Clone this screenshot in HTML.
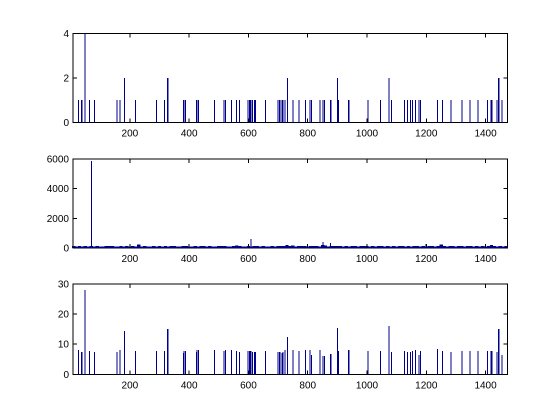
<!DOCTYPE html>
<html><head><meta charset="utf-8"><style>
html,body{margin:0;padding:0;background:#fff;}
svg{display:block;font-family:"Liberation Sans",sans-serif;font-size:10px;}
</style></head><body>
<svg id="chart" width="560" height="420" xmlns="http://www.w3.org/2000/svg" shape-rendering="crispEdges"></svg>
<script>
// shared x categories (positions of events)
const eventX = [26,36,39,49,63,80,157,167,181,219,289,316,326,329,380,383,387,424,427,431,485,518,522,542,559,569,599,603,606,609,613,620,623,657,700,704,707,714,717,724,731,751,771,792,808,812,842,852,856,876,879,900,903,937,940,1004,1045,1075,1082,1126,1136,1146,1153,1163,1176,1180,1237,1254,1284,1321,1348,1375,1406,1419,1422,1439,1443,1446,1456];
const countValues = [1,1,1,4,1,1,1,1,2,1,1,1,2,2,1,1,1,1,1,1,1,1,1,1,1,1,1,1,1,1,1,1,1,1,1,1,1,1,1,1,2,1,1,1,1,1,1,1,1,1,1,2,1,1,1,1,1,2,1,1,1,1,1,1,1,1,1,1,1,1,1,1,1,1,1,1,2,2,1];
const ratioValues = [8.1,7.4,7.4,28,7.7,7.4,7.4,8.1,14.4,7.7,7.7,7.7,15,15,7,7.7,7.7,7.4,8,8,8,7.7,8,8,7.7,7.4,7.7,7.7,7.7,7.7,7.4,7.4,7.4,7.7,7.4,7.4,7.4,7,7.4,8,12.4,8,7.7,8,8,6.4,8,6.1,6.1,6.8,6.8,15.4,7.7,8,8,7.7,7.7,16,7.4,7.7,7.4,7.4,7.7,8,6.4,7.7,8.4,7.7,7.4,7.7,7.7,7.7,7.7,7.7,7.7,7.4,15,15,6.4];
// middle series: baseline sampled every 10 units plus spikes
const denseX0 = 10, denseStep = 10;
const denseValues = [140,110,150,100,120,95,130,100,120,110,100,140,150,120,100,110,130,110,140,105,120,100,250,110,130,115,100,120,105,140,110,125,100,130,150,110,100,120,140,115,100,130,110,120,150,105,120,100,110,130,140,120,100,110,150,180,120,100,115,130,100,140,120,110,130,100,115,120,105,130,120,140,200,130,160,110,140,120,130,110,150,120,140,110,200,160,110,130,140,150,120,110,130,100,120,140,110,130,150,120,110,130,100,150,140,110,120,100,130,110,120,140,100,130,110,120,150,110,140,100,125,130,110,140,250,130,110,120,140,100,130,150,110,120,140,100,130,110,120,105,140,200,120,110,130,100,150];
const spikeX = [70,608,852,876,1199];
const spikeValues = [5880,620,420,350,260];
const xTicks = [200,400,600,800,1000,1200,1400];
const yTicksTop = [0,2,4], yTicksMid = [0,2000,4000,6000], yTicksBot = [0,10,20,30];

const svg = document.getElementById('chart');
const NS = 'http://www.w3.org/2000/svg';
const X0 = 73, X1 = 507.5, XMIN = 8, XMAX = 1474;
const xs = v => X0 + (v - XMIN) / (XMAX - XMIN) * (X1 - X0);
const C = '#00008b';
function el(tag, attrs){const e=document.createElementNS(NS,tag);for(const k in attrs)e.setAttribute(k,attrs[k]);return e;}

function panel(name, top, bot, ymax, yticks, xsArr, vals, width, extraX, extraV){
  const g = el('g',{});
  
  
  svg.appendChild(g);
  const ys = v => bot - v / ymax * (bot - top);
  const frame = el('rect',{x:X0,y:top,width:X1-X0,height:bot-top,fill:'#fff',stroke:'#000','stroke-width':1});
  
  
  g.appendChild(frame);
  function bars(xa, va, w){
    for(let i=0;i<va.length;i++){
      const x = xs(xa[i]);
      if(x < X0 || x > X1) continue;
      const b = el('line',{x1:x,x2:x,y1:bot,y2:ys(va[i]),stroke:C,'stroke-width':w});
      
      
      g.appendChild(b);
    }
  }
  bars(xsArr, vals, width);
  if(extraX) bars(extraX, extraV, 1);
  xTicks.forEach(t=>{
    const x = xs(t);
    g.appendChild(el('line',{x1:x,x2:x,y1:bot,y2:bot-4,stroke:'#000'}));
    g.appendChild(el('line',{x1:x,x2:x,y1:top,y2:top+4,stroke:'#000'}));
    const tx = el('text',{x:x,y:bot+14,'text-anchor':'middle',fill:'#000'});
    tx.textContent = t;
    
    
    g.appendChild(tx);
  });
  yticks.forEach(t=>{
    const y = ys(t);
    g.appendChild(el('line',{x1:X0,x2:X0+4,y1:y,y2:y,stroke:'#000'}));
    g.appendChild(el('line',{x1:X1,x2:X1-4,y1:y,y2:y,stroke:'#000'}));
    const tx = el('text',{x:X0-4,y:y+3.5,'text-anchor':'end',fill:'#000'});
    tx.textContent = t;
    
    
    g.appendChild(tx);
  });
}
panel('count-panel', 33.3, 122.5, 4, yTicksTop, eventX, countValues, 1);
const denseXs = denseValues.map((_, i) => denseX0 + i * denseStep);
panel('volume-panel', 159, 248, 6000, yTicksMid, denseXs, denseValues, 3.4, spikeX, spikeValues);
panel('ratio-panel', 284, 374.3, 30, yTicksBot, eventX, ratioValues, 1);
</script>
</body></html>
